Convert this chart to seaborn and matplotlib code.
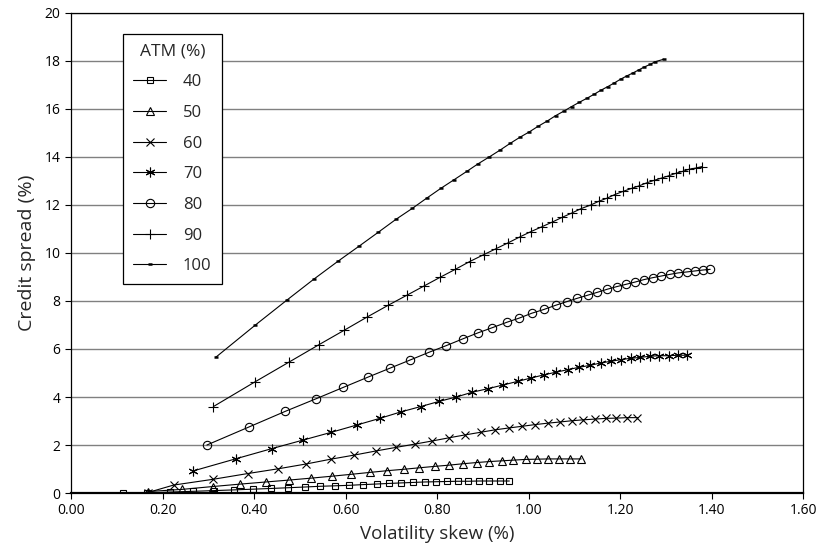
import numpy as np
import pandas as pd
import matplotlib.pyplot as plt
import seaborn as sns

# --- Datos: volatility skew (%) vs credit spread (%) por ATM (%) ---
atm_labels = ['40', '50', '60', '70', '80', '90', '100']

x40 = [0.113, 0.165, 0.216, 0.266, 0.312, 0.356, 0.398, 0.438, 0.475, 0.511,
       0.544, 0.577, 0.608, 0.638, 0.668, 0.696, 0.721, 0.747, 0.773, 0.798,
       0.821, 0.845, 0.868, 0.891, 0.914, 0.937, 0.958]
y40 = [0.0, 0.0, 0.04, 0.07, 0.10, 0.13, 0.16, 0.19, 0.22, 0.25,
       0.28, 0.30, 0.32, 0.35, 0.375, 0.40, 0.42, 0.44, 0.46, 0.47,
       0.48, 0.49, 0.49, 0.50, 0.50, 0.50, 0.50]

x50 = [0.168, 0.242, 0.310, 0.369, 0.426, 0.477, 0.525, 0.570, 0.613, 0.654,
       0.691, 0.728, 0.761, 0.795, 0.826, 0.857, 0.887, 0.914, 0.941, 0.967,
       0.994, 1.019, 1.043, 1.067, 1.091, 1.115]
y50 = [0.06, 0.15, 0.27, 0.37, 0.46, 0.54, 0.62, 0.70, 0.78, 0.86,
       0.93, 0.99, 1.05, 1.11, 1.16, 1.22, 1.27, 1.31, 1.34, 1.37,
       1.40, 1.41, 1.42, 1.42, 1.42, 1.42]

x60 = [0.168, 0.224, 0.310, 0.386, 0.453, 0.514, 0.568, 0.619, 0.666, 0.710,
       0.752, 0.790, 0.826, 0.861, 0.895, 0.926, 0.957, 0.986, 1.014, 1.042,
       1.069, 1.094, 1.120, 1.145, 1.169, 1.192, 1.215, 1.238]
y60 = [0.02, 0.33, 0.57, 0.81, 1.01, 1.21, 1.41, 1.58, 1.75, 1.90,
       2.04, 2.17, 2.30, 2.42, 2.53, 2.63, 2.71, 2.78, 2.85, 2.91,
       2.96, 3.01, 3.05, 3.08, 3.11, 3.12, 3.14, 3.14]

x70 = [0.267, 0.361, 0.439, 0.508, 0.569, 0.624, 0.675, 0.721, 0.764, 0.805,
       0.842, 0.877, 0.912, 0.944, 0.976, 1.005, 1.033, 1.059, 1.086, 1.111,
       1.135, 1.158, 1.181, 1.202, 1.223, 1.244, 1.266, 1.286, 1.306, 1.327,
       1.346]
y70 = [0.92, 1.43, 1.85, 2.21, 2.53, 2.83, 3.11, 3.38, 3.60, 3.82,
       4.00, 4.20, 4.35, 4.50, 4.65, 4.79, 4.92, 5.03, 5.14, 5.24,
       5.32, 5.42, 5.49, 5.56, 5.61, 5.65, 5.70, 5.72, 5.72, 5.74,
       5.74]

x80 = [0.297, 0.390, 0.468, 0.536, 0.595, 0.648, 0.697, 0.741, 0.782, 0.820,
       0.856, 0.889, 0.921, 0.952, 0.980, 1.007, 1.034, 1.059, 1.083, 1.106,
       1.129, 1.150, 1.172, 1.193, 1.214, 1.233, 1.252, 1.271, 1.290, 1.309,
       1.327, 1.346, 1.363, 1.381, 1.397]
y80 = [2.00, 2.76, 3.40, 3.93, 4.40, 4.82, 5.20, 5.54, 5.86, 6.14,
       6.42, 6.67, 6.89, 7.11, 7.29, 7.49, 7.65, 7.82, 7.97, 8.11,
       8.24, 8.36, 8.49, 8.60, 8.70, 8.79, 8.89, 8.97, 9.04, 9.11,
       9.17, 9.21, 9.25, 9.29, 9.32]

x90 = [0.311, 0.402, 0.477, 0.541, 0.597, 0.647, 0.693, 0.734, 0.772, 0.807,
       0.840, 0.871, 0.902, 0.929, 0.956, 0.981, 1.005, 1.030, 1.052, 1.074,
       1.095, 1.115, 1.136, 1.153, 1.171, 1.188, 1.207, 1.225, 1.242, 1.258,
       1.275, 1.292, 1.307, 1.322, 1.337, 1.351, 1.366, 1.379]
y90 = [3.60, 4.63, 5.46, 6.17, 6.78, 7.33, 7.82, 8.24, 8.63, 8.99,
       9.32, 9.64, 9.93, 10.18, 10.43, 10.67, 10.89, 11.10, 11.29, 11.49,
       11.67, 11.85, 12.00, 12.15, 12.28, 12.43, 12.57, 12.69, 12.80, 12.92,
       13.03, 13.13, 13.22, 13.32, 13.40, 13.49, 13.54, 13.60]

x100 = [0.316, 0.403, 0.472, 0.530, 0.583, 0.630, 0.672, 0.710, 0.746, 0.777,
        0.808, 0.837, 0.865, 0.890, 0.914, 0.938, 0.960, 0.981, 1.002, 1.021,
        1.041, 1.059, 1.078, 1.094, 1.111, 1.127, 1.143, 1.158, 1.173, 1.187,
        1.201, 1.215, 1.228, 1.241, 1.253, 1.266, 1.277, 1.295]
y100 = [5.65, 7.00, 8.04, 8.90, 9.65, 10.29, 10.87, 11.40, 11.86, 12.28,
        12.69, 13.05, 13.40, 13.72, 14.00, 14.29, 14.57, 14.82, 15.05, 15.28,
        15.50, 15.72, 15.92, 16.10, 16.28, 16.44, 16.61, 16.78, 16.93, 17.08,
        17.24, 17.38, 17.50, 17.63, 17.75, 17.86, 17.97, 18.07]

xs = [x40, x50, x60, x70, x80, x90, x100]
ys = [y40, y50, y60, y70, y80, y90, y100]
# marcadores tipo Excel: cuadrado, triangulo, x, asterisco, circulo, +, guion
marcadores = ['s', '^', 'x', (6, 2, 0), 'o', '+', '_']
tamanos = [5, 5.5, 6, 7, 6, 7, 3.2]
grosores = [0.8, 0.8, 0.8, 0.8, 0.8, 0.8, 1.8]

# --- Estilo ---
sns.set_style('white')
plt.rcParams['font.family'] = ['Open Sans', 'DejaVu Sans']

fig = plt.figure(figsize=(8.22, 5.47), dpi=100)
ax = fig.add_axes([0.0864, 0.0987, 0.8906, 0.8776])

for lab, x, y, m, ms, mw in zip(atm_labels, xs, ys, marcadores, tamanos, grosores):
    df = pd.DataFrame({'skew': x, 'spread': y})
    sns.lineplot(data=df, x='skew', y='spread', ax=ax, color='black',
                 linewidth=0.8, marker=m, markersize=ms, markerfacecolor='none',
                 markeredgecolor='black', markeredgewidth=mw, label=lab)

# --- Ejes ---
ax.set_xlim(0, 1.6)
ax.set_ylim(0, 20)
ax.set_xticks(np.arange(0, 1.61, 0.2))
ax.set_xticklabels([f'{v:.2f}' for v in np.arange(0, 1.61, 0.2)])
ax.set_yticks(np.arange(0, 21, 2))
ax.tick_params(axis='both', direction='out', length=4, width=0.8,
               labelsize=10, colors='black', bottom=True, left=True)
ax.yaxis.grid(True, color='#808080', linewidth=1.0)
ax.xaxis.grid(False)
ax.set_axisbelow(True)
for s in ax.spines.values():
    s.set_color('black')
    s.set_linewidth(0.9)
ax.spines['bottom'].set_linewidth(1.6)

ax.set_xlabel('Volatility skew (%)', fontsize=13.5, labelpad=5)
ax.set_ylabel('Credit spread (%)', fontsize=14, labelpad=6)

leg = ax.legend(title='ATM (%)', loc='upper left', bbox_to_anchor=(0.071, 0.957),
                fontsize=12, title_fontsize=12.5, frameon=True, fancybox=False,
                edgecolor='black', framealpha=1, labelspacing=0.88,
                handlelength=2.0, handletextpad=1.0, borderpad=0.6,
                borderaxespad=0)
leg.get_frame().set_linewidth(0.9)

plt.savefig('out.png', dpi=100)
